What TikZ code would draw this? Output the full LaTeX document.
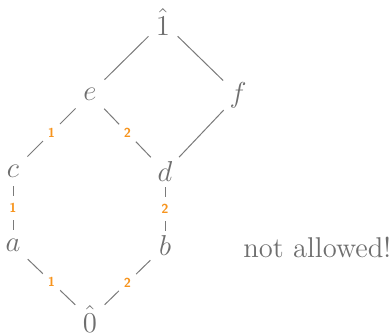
\documentclass[tikz,border=0pt]{standalone}
\usetikzlibrary{calc}
\definecolor{txtgray}{HTML}{6E6E6E}
\definecolor{linegray}{HTML}{7A7A7A}
\definecolor{lblorange}{HTML}{F7941D}
\begin{document}
\begin{tikzpicture}[x=0.5pt,y=-0.5pt,
  vtx/.style={circle,minimum size=15pt,inner sep=0pt,text=txtgray,font=\fontsize{14}{16}\selectfont},
  edge/.style={draw=linegray,line width=0.5pt},
  diag/.style={edge,shorten <=2.5pt,shorten >=2.5pt},
  lbl/.style={circle,fill=white,minimum size=12pt,inner sep=0pt,text=lblorange,font=\fontsize{6.5}{7}\selectfont\sffamily\bfseries}]
\useasboundingbox (0,0) rectangle (392,335);
\node[vtx] (one) at (163,22) {$\hat{1}$};
\node[vtx] (e) at (90,94) {$e$};
\node[vtx] (f) at (238,95) {$f$};
\node[vtx] (c) at (13,171) {$c$};
\node[vtx] (d) at (165,172) {$d$};
\node[vtx] (a) at (13,245) {$a$};
\node[vtx] (b) at (165,246) {$b$};
\node[vtx] (zero) at (90,319) {$\hat{0}$};
\node[anchor=west,text=txtgray,font=\fontsize{14.3}{16}\selectfont,inner sep=0pt] (na) at (243,247) {not allowed!};
\draw[diag] (one) -- (e);
\draw[diag] (one) -- (f);
\draw[diag] (f) -- (d);
\draw[diag] (e) -- node[lbl]{1} (c);
\draw[diag] (e) -- node[lbl]{2} (d);
\draw[edge] (c) -- node[lbl]{1} (a);
\draw[edge] (d) -- node[lbl]{2} (b);
\draw[diag] (a) -- node[lbl]{1} (zero);
\draw[diag] (b) -- node[lbl]{2} (zero);
\end{tikzpicture}
\end{document}
